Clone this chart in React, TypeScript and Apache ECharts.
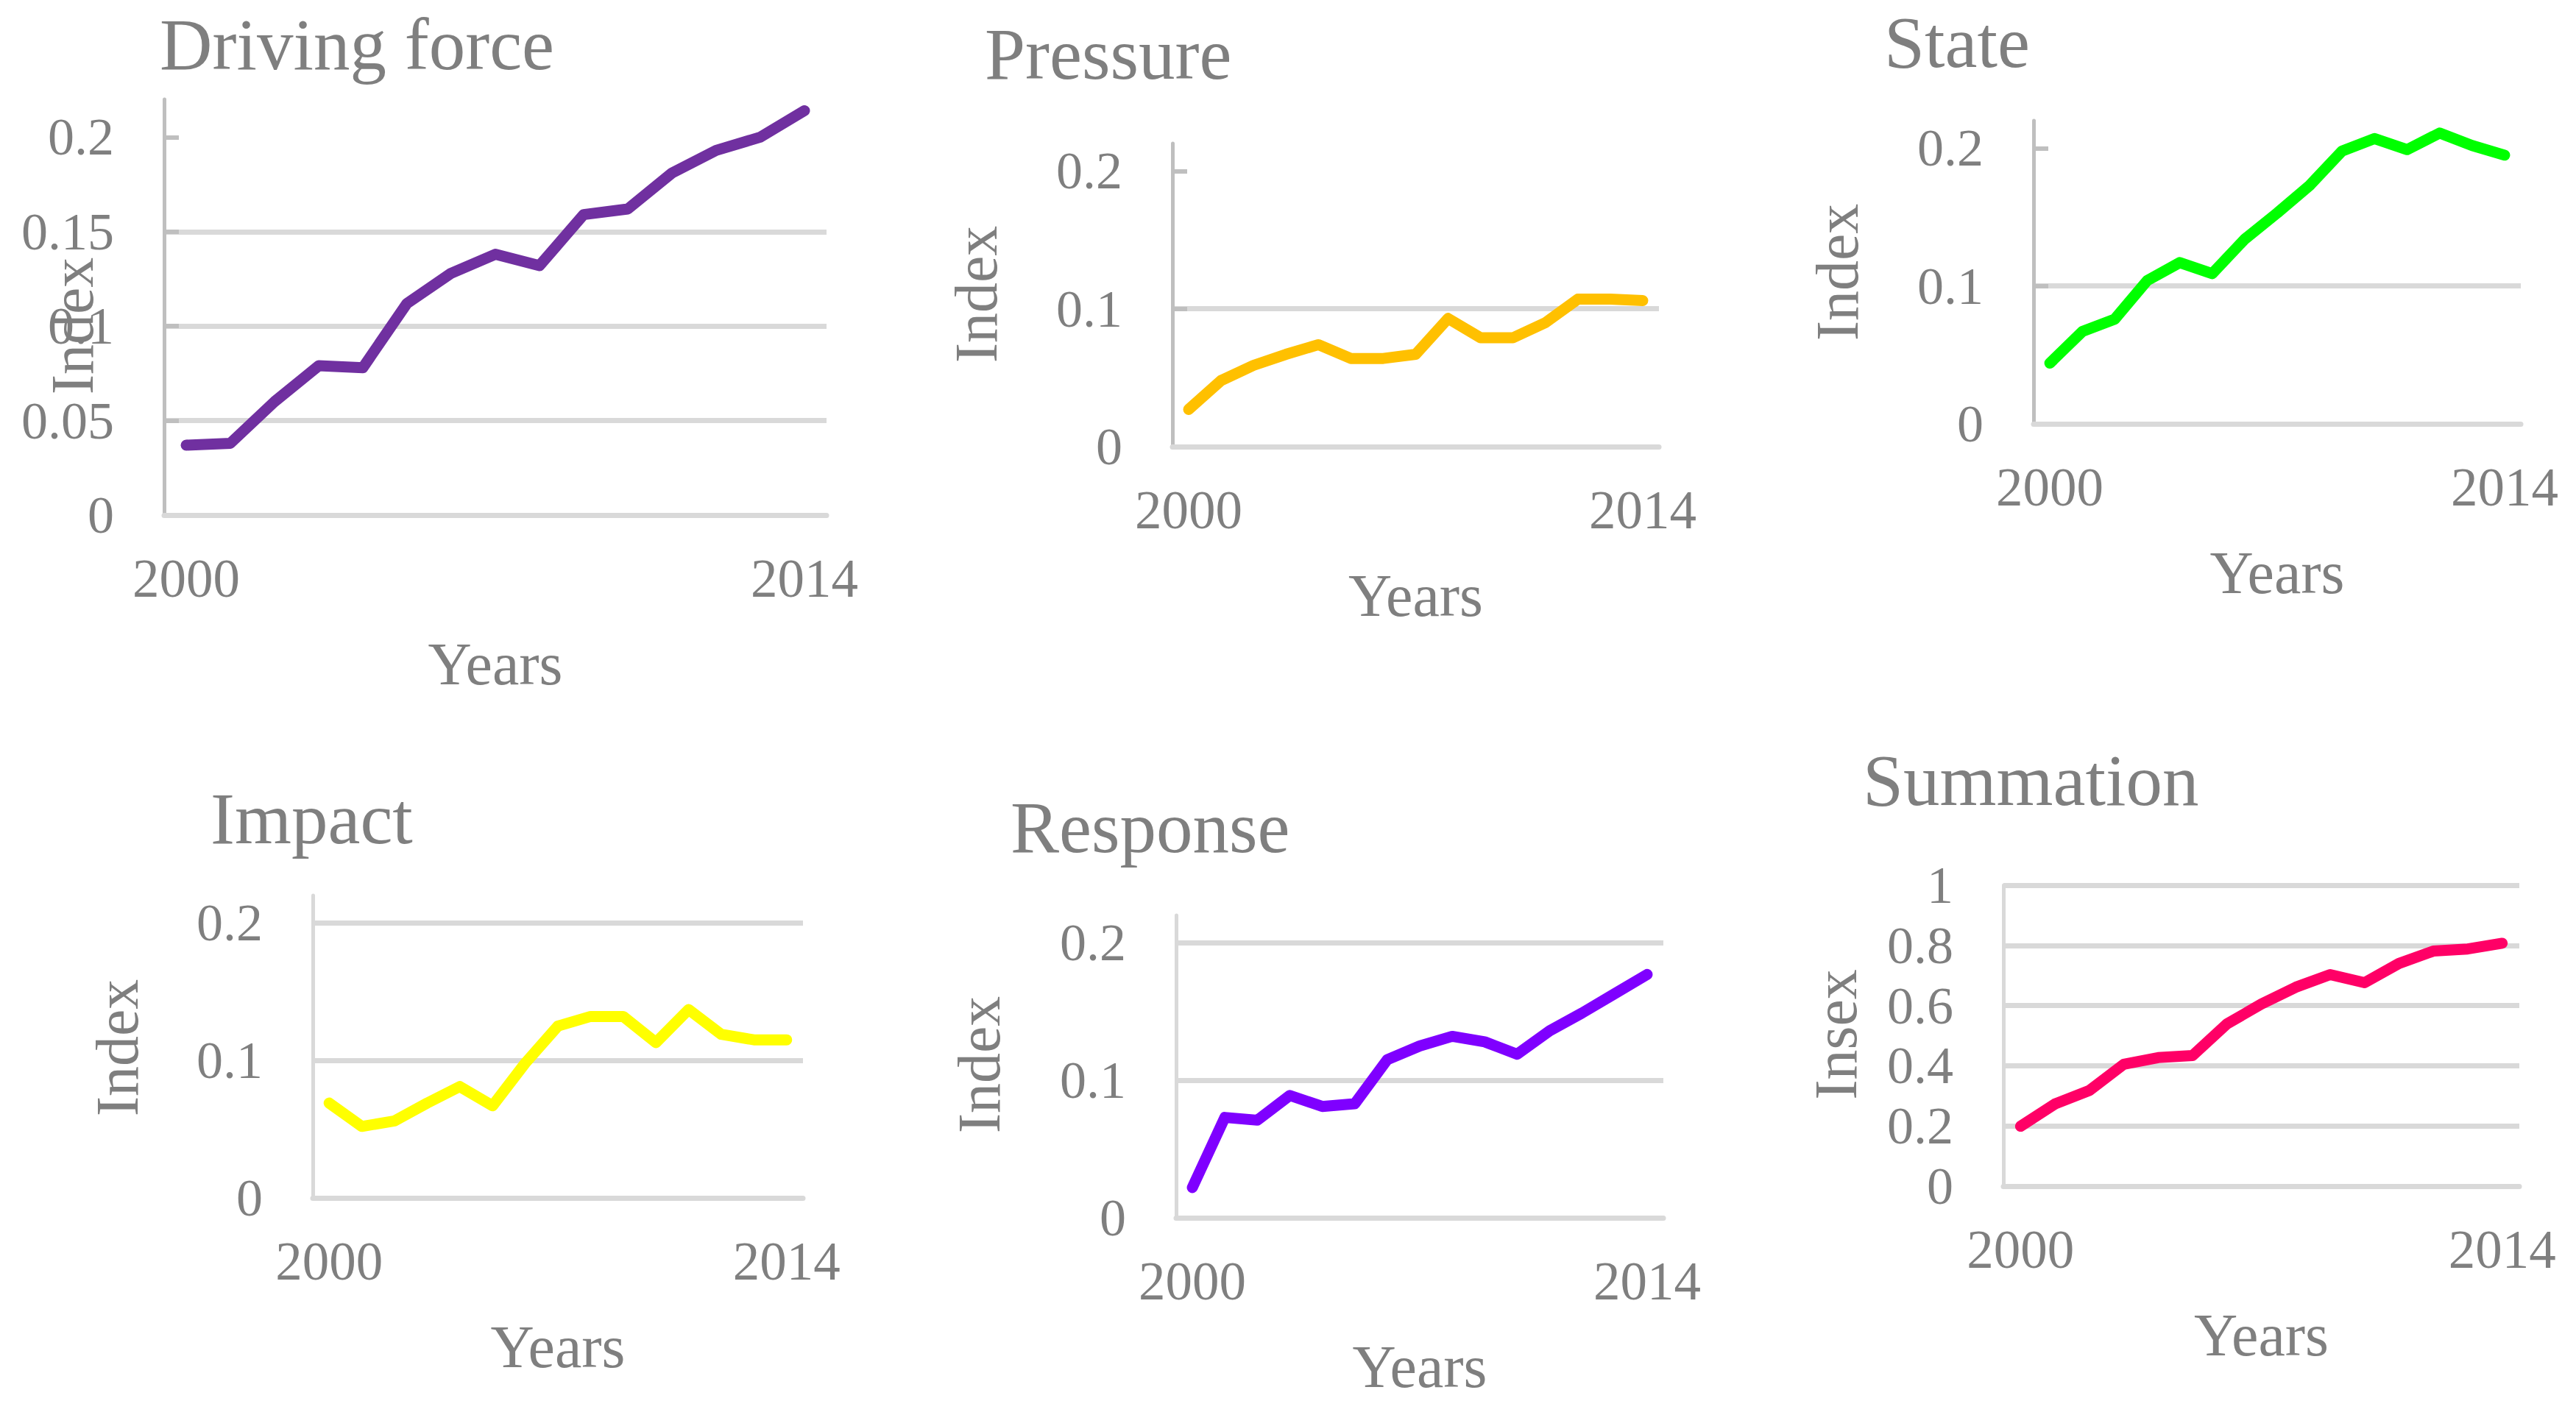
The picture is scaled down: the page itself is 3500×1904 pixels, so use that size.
import React, { useEffect, useRef } from 'react';
import * as echarts from 'echarts';

const years = ['2000', '2001', '2002', '2003', '2004', '2005', '2006', '2007', '2008', '2009', '2010', '2011', '2012', '2013', '2014'];

const drivingForce = [0.037, 0.038, 0.060, 0.079, 0.078, 0.112, 0.128, 0.138, 0.132, 0.159, 0.162, 0.181, 0.193, 0.200, 0.214];
const pressure = [0.027, 0.048, 0.059, 0.067, 0.074, 0.064, 0.064, 0.067, 0.093, 0.079, 0.079, 0.090, 0.107, 0.107, 0.106];
const stateIdx = [0.044, 0.067, 0.076, 0.104, 0.117, 0.109, 0.134, 0.153, 0.173, 0.198, 0.207, 0.199, 0.211, 0.202, 0.195];
const impact = [0.069, 0.052, 0.056, 0.069, 0.081, 0.067, 0.098, 0.125, 0.132, 0.132, 0.113, 0.137, 0.119, 0.115, 0.115];
const response = [0.022, 0.073, 0.071, 0.089, 0.081, 0.083, 0.115, 0.125, 0.132, 0.128, 0.119, 0.136, 0.149, 0.163, 0.177];
const summation = [0.199, 0.273, 0.318, 0.405, 0.427, 0.434, 0.539, 0.605, 0.661, 0.703, 0.676, 0.740, 0.781, 0.788, 0.807];

const panelTitles = ['Driving force', 'Pressure', 'State', 'Impact', 'Response', 'Summation'];
const yAxisNames = ['Index', 'Index', 'Index', 'Index', 'Index', 'Insex'];
const xAxisName = 'Years';
const yMax = [0.22, 0.22, 0.22, 0.22, 0.22, 1];
const yInterval = [0.05, 0.1, 0.1, 0.1, 0.1, 0.2];
const yTickValues = [[0.05, 0.1, 0.15, 0.2], [0.1, 0.2], [0.1, 0.2], [], [], []];
const seriesData = [drivingForce, pressure, stateIdx, impact, response, summation];
const lineColors = ['#7030A0', '#FFC000', '#00FF00', '#FFFF00', '#7F00FF', '#FF0066'];

const FONT = '"Liberation Serif", "Times New Roman", serif';
const TEXT = '#7f7f7f';
const GRID_LINE = '#d9d9d9';

const layout = [
  { grid: { left: 223, top: 135, width: 900, height: 565 }, title: { x: 217, baseline: 94 }, yName: { x: 98, y: 443 }, axisColor: '#bfbfbf' },
  { grid: { left: 1593, top: 195, width: 661, height: 412 }, title: { x: 1338, baseline: 107 }, yName: { x: 1326, y: 400 }, axisColor: '#bfbfbf' },
  { grid: { left: 2763, top: 164, width: 662, height: 412 }, title: { x: 2560, baseline: 91 }, yName: { x: 2496, y: 370 }, axisColor: '#bfbfbf' },
  { grid: { left: 425, top: 1217, width: 666, height: 411 }, title: { x: 286, baseline: 1146 }, yName: { x: 159, y: 1424 }, axisColor: GRID_LINE },
  { grid: { left: 1598, top: 1244, width: 662, height: 411 }, title: { x: 1373, baseline: 1158 }, yName: { x: 1330, y: 1447 }, axisColor: GRID_LINE },
  { grid: { left: 2722, top: 1203, width: 701, height: 409 }, title: { x: 2531, baseline: 1094 }, yName: { x: 2494, y: 1406 }, axisColor: GRID_LINE },
];

const TITLE_SIZE = 99;
const YLABEL_SIZE = 72;
const XLABEL_SIZE = 73;
const NAME_SIZE = 82;

function buildOption() {
  const grids: any[] = [];
  const xAxes: any[] = [];
  const yAxes: any[] = [];
  const series: any[] = [];
  const titles: any[] = [];
  const graphics: any[] = [];

  layout.forEach((p, i) => {
    grids.push({ ...p.grid, containLabel: false });
    titles.push({
      text: panelTitles[i],
      left: p.title.x,
      top: p.title.baseline - 0.8375 * TITLE_SIZE,
      padding: 0,
      textStyle: { fontFamily: FONT, fontSize: TITLE_SIZE, fontWeight: 'normal', color: TEXT },
    });
    const last = years.length - 1;
    xAxes.push({
      type: 'category',
      gridIndex: i,
      data: years,
      boundaryGap: true,
      name: xAxisName,
      nameLocation: 'middle',
      nameGap: 161,
      nameTextStyle: { fontFamily: FONT, fontSize: NAME_SIZE, color: TEXT },
      axisLine: { show: true, lineStyle: { color: GRID_LINE, width: 7 } },
      axisTick: { show: false },
      axisLabel: {
        interval: (idx: number) => idx === 0 || idx === last,
        margin: 50,
        fontFamily: FONT,
        fontSize: XLABEL_SIZE,
        color: TEXT,
      },
      splitLine: { show: false },
    });
    const mx = yMax[i];
    const nLines = Math.round(mx / yInterval[i]) + 2;
    const splitColors = Array.from({ length: nLines }, (_, k) => (k === nLines - 1 && mx < 0.5 ? 'rgba(0,0,0,0)' : GRID_LINE));
    yAxes.push({
      type: 'value',
      gridIndex: i,
      min: 0,
      max: mx,
      interval: yInterval[i],
      axisLine: { show: true, lineStyle: { color: p.axisColor, width: 5 } },
      axisTick: yTickValues[i].length
        ? { show: true, inside: true, length: 20, customValues: yTickValues[i], lineStyle: { color: '#bfbfbf', width: 6 } }
        : { show: false },
      axisLabel: {
        margin: 68,
        fontFamily: FONT,
        fontSize: YLABEL_SIZE,
        color: TEXT,
        formatter: (v: number) => (v > yMax[i] - 1e-9 && yMax[i] < 0.5 ? '' : String(Math.round(v * 1000) / 1000)),
      },
      splitLine: { show: true, showMaxLine: mx >= 0.5, lineStyle: { color: splitColors, width: 7 } },
    });
    series.push({
      type: 'line',
      xAxisIndex: i,
      yAxisIndex: i,
      data: seriesData[i],
      symbol: 'none',
      lineStyle: { color: lineColors[i], width: 15, cap: 'round', join: 'round' },
      z: 5,
    });
    graphics.push({
      type: 'text',
      x: p.yName.x,
      y: p.yName.y,
      rotation: Math.PI / 2,
      style: {
        text: yAxisNames[i],
        fontFamily: FONT,
        fontSize: NAME_SIZE,
        fill: TEXT,
        textAlign: 'center',
        textVerticalAlign: 'middle',
        align: 'center',
        verticalAlign: 'middle',
      },
      z: 10,
    });
  });

  return {
    animation: false,
    backgroundColor: '#ffffff',
    title: titles,
    grid: grids,
    xAxis: xAxes,
    yAxis: yAxes,
    series,
    graphic: graphics,
  };
}

export default function App() {
  const ref = useRef<HTMLDivElement>(null);
  useEffect(() => {
    document.body.style.margin = '0';
    if (!ref.current) return;
    const chart = echarts.init(ref.current, undefined, { renderer: 'svg' });
    chart.setOption(buildOption() as any);
    return () => chart.dispose();
  }, []);
  return <div ref={ref} style={{ width: 3500, height: 1904 }} />;
}
